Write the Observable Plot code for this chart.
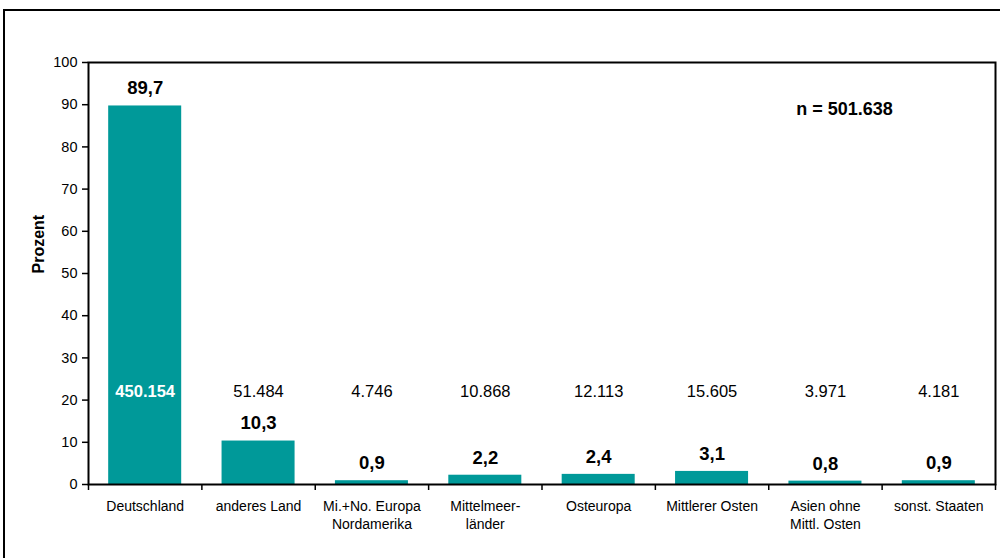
<!DOCTYPE html>
<html>
<head>
<meta charset="utf-8">
<script src="https://cdn.jsdelivr.net/npm/d3@7"></script>
<script src="https://cdn.jsdelivr.net/npm/@observablehq/plot@0.6"></script>
<style>
  html, body { margin: 0; padding: 0; background: #fff; overflow: hidden; }
  #wrap { position: relative; width: 1000px; height: 558px; }
  #border { position: absolute; left: 3px; top: 9px; width: 1010px; height: 570px; border: 2px solid #000; box-sizing: border-box; }
  #chart { position: absolute; left: 0; top: 0; }
  svg { font-family: "Liberation Sans", Arial, sans-serif; }
</style>
</head>
<body>
<div id="wrap"><div id="border"></div><div id="chart"></div></div>
<script>
const categories = ["Deutschland", "anderes Land", "Mi.+No. Europa Nordamerika", "Mittelmeerländer", "Osteuropa", "Mittlerer Osten", "Asien ohne Mittl. Osten", "sonst. Staaten"];
const tickLabels = ["Deutschland", "anderes Land", "Mi.+No. Europa\nNordamerika", "Mittelmeer-\nländer", "Osteuropa", "Mittlerer Osten", "Asien ohne\nMittl. Osten", "sonst. Staaten"];
const percents = [89.7, 10.3, 0.9, 2.2, 2.4, 3.1, 0.8, 0.9];
const counts = ["450.154", "51.484", "4.746", "10.868", "12.113", "15.605", "3.971", "4.181"];
const yTicks = [0, 10, 20, 30, 40, 50, 60, 70, 80, 90, 100];
const totalLabel = "n = 501.638";
const yLabel = "Prozent";

const data = categories.map((c, i) => ({cat: c, label: tickLabels[i], pct: percents[i], count: counts[i]}));
const fmt = v => v.toFixed(1).replace(".", ",");

const W = 1000, H = 558, mL = 88, mR = 5, mT = 62, mB = 74;
const step = (W - mL - mR) / categories.length;
const font = "Liberation Sans, Arial, sans-serif";
const teal = "#009999";

const chart = Plot.plot({
  width: W, height: H,
  marginLeft: mL, marginRight: mR, marginTop: mT, marginBottom: mB,
  style: {fontFamily: font, color: "#000", background: "transparent"},
  x: {domain: categories, paddingInner: 0.356, paddingOuter: 0.178, round: false, axis: null},
  y: {domain: [0, 100], axis: null},
  marks: [
    Plot.barY(data, {x: "cat", y: "pct", fill: teal}),
    Plot.frame({stroke: "#000", strokeWidth: 2}),
    Plot.axisY({ticks: yTicks, tickSize: 6, tickPadding: 5, fontSize: 14.5, label: null, strokeWidth: 1.5}),
    Plot.text([yLabel], {frameAnchor: "left", dx: -50, rotate: -90, fontSize: 16, fontWeight: "bold", text: d => d}),
    Plot.ruleX(data, {x: "cat", y1: 0, y2: 0, dx: -step / 2, insetBottom: -6, stroke: "#000", strokeWidth: 1.5}),
    Plot.ruleX([categories[categories.length - 1]], {x: d => d, y1: 0, y2: 0, dx: step / 2, insetBottom: -6, stroke: "#000", strokeWidth: 1.5}),
    Plot.text(data, {x: "cat", frameAnchor: "bottom", lineAnchor: "top", dy: 14, text: "label", fontSize: 14, lineHeight: 1.29}),
    Plot.text(data, {x: "cat", y: "pct", text: d => fmt(d.pct), dy: -17.5, fontSize: 18.5, fontWeight: "bold"}),
    Plot.text(data.slice(0, 1), {x: "cat", y: () => 21.9, text: "count", fill: "#fff", fontWeight: "bold", fontSize: 16.5}),
    Plot.text(data.slice(1), {x: "cat", y: () => 21.9, text: "count", fill: "#000", fontSize: 16.5}),
    Plot.text([totalLabel], {x: () => categories[6], y: () => 88.9, dx: 19, text: d => d, fontSize: 18, fontWeight: "bold"})
  ]
});
document.getElementById("chart").appendChild(chart);
</script>
</body>
</html>
